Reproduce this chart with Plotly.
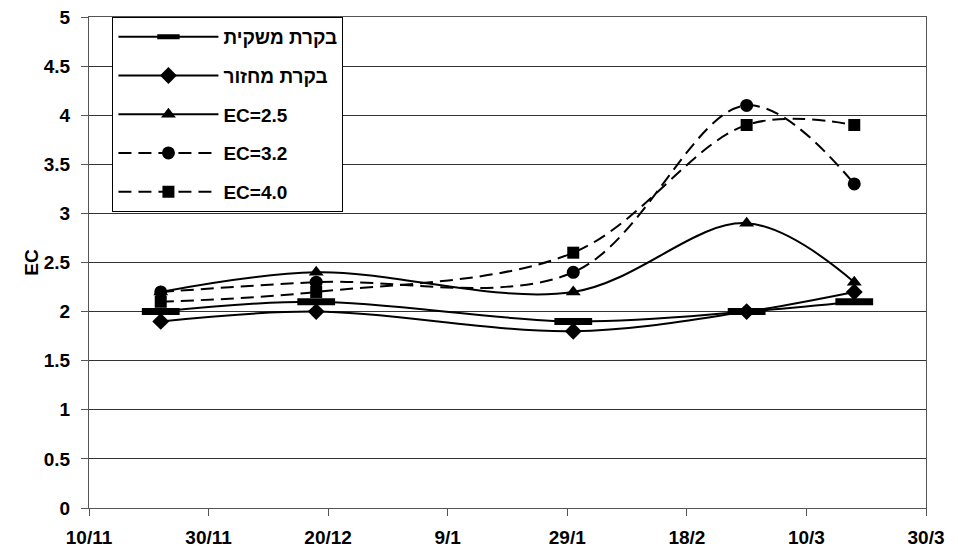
import plotly.graph_objects as go

# Sampling dates and EC readings per treatment
dates = ["2002-11-22", "2002-12-18", "2003-01-30", "2003-02-28", "2003-03-18"]
bag_control = [2.0, 2.1, 1.9, 2.0, 2.1]
recycle_control = [1.9, 2.0, 1.8, 2.0, 2.2]
ec_25 = [2.2, 2.4, 2.2, 2.9, 2.3]
ec_32 = [2.2, 2.3, 2.4, 4.1, 3.3]
ec_40 = [2.1, 2.2, 2.6, 3.9, 3.9]

series = [
    ("בקרת משקית", bag_control, "solid", "line-ew", 27),
    ("בקרת מחזור", recycle_control, "solid", "diamond", 13),
    ("EC=2.5", ec_25, "solid", "triangle-up", 13),
    ("EC=3.2", ec_32, "13px,7px", "circle", 13),
    ("EC=4.0", ec_40, "13px,7px", "square", 12),
]

x_tick_dates = ["2002-11-10", "2002-11-30", "2002-12-20", "2003-01-09",
                "2003-01-29", "2003-02-18", "2003-03-10", "2003-03-30"]
x_tick_labels = ["10/11", "30/11", "20/12", "9/1", "29/1", "18/2", "10/3", "30/3"]
y_ticks = [0, 0.5, 1, 1.5, 2, 2.5, 3, 3.5, 4, 4.5, 5]

FONT = "Liberation Sans, Arial"
SIZE = 19

fig = go.Figure()
for i, (name, vals, dash, sym, size) in enumerate(series):
    marker = dict(symbol=sym, size=size, color="black")
    if sym == "line-ew":
        marker["line"] = dict(width=7, color="black")
    fig.add_trace(go.Scatter(
        x=dates, y=vals, name=f"<b>{name}</b>", mode="lines+markers",
        line=dict(color="black", width=2, dash=dash, shape="spline", smoothing=1.0),
        marker=marker, legendgroup=f"g{i}",
    ))

tick_font = dict(family=FONT, size=SIZE, color="black")

fig.update_layout(
    width=958, height=550,
    margin=dict(l=89, r=32, t=17, b=42),
    paper_bgcolor="white", plot_bgcolor="white",
    font=dict(family=FONT, size=SIZE, color="black"),
    showlegend=True,
    legend=dict(
        x=0.028, y=1.0, xanchor="left", yanchor="top",
        bgcolor="white", bordercolor="black", borderwidth=1,
        font=dict(family=FONT, size=SIZE, color="black"),
        tracegroupgap=11, itemwidth=100,
    ),
    xaxis=dict(
        type="date", range=["2002-11-10", "2003-03-30"],
        tickmode="array", tickvals=x_tick_dates,
        ticktext=[f"<b>{t}</b>" for t in x_tick_labels],
        tickfont=tick_font, automargin=False, ticklabelstandoff=5,
        showgrid=False, showline=True, linecolor="#555", linewidth=1, mirror=True,
        ticks="outside", ticklen=7, tickcolor="#555", zeroline=False,
    ),
    yaxis=dict(
        range=[0, 5], tickmode="array", tickvals=y_ticks,
        ticktext=[f"<b>{v:g}</b>" for v in y_ticks],
        tickfont=tick_font, automargin=False, ticklabelstandoff=7,
        title=dict(text="<b>EC</b>", standoff=0,
                   font=dict(family=FONT, size=SIZE, color="black")),
        showgrid=True, gridcolor="#333", gridwidth=1,
        showline=True, linecolor="#555", linewidth=1, mirror=True,
        ticks="outside", ticklen=7, tickcolor="#555", zeroline=False,
    ),
)

fig.write_html("out.html")
